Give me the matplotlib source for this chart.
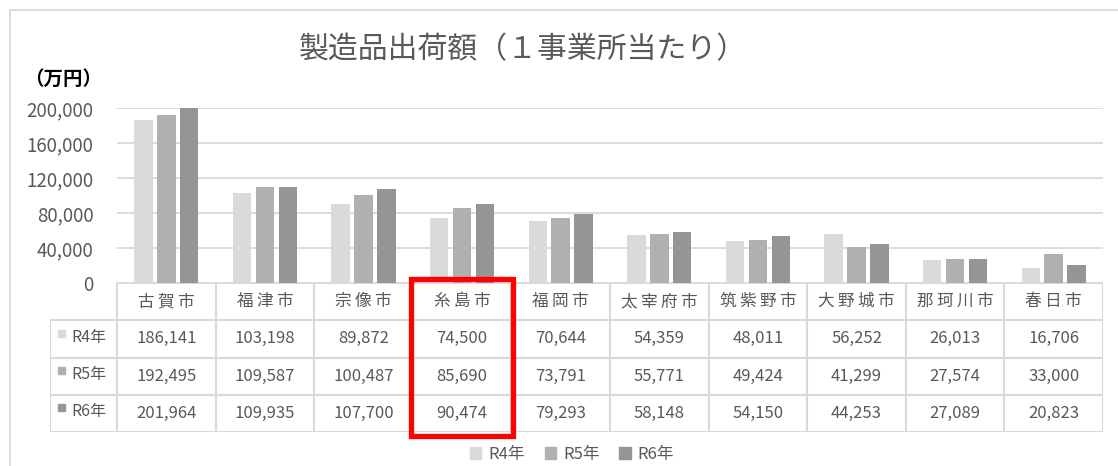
import matplotlib
matplotlib.use("Agg")
import matplotlib.pyplot as plt
from matplotlib.patches import Patch, Rectangle
from matplotlib.lines import Line2D
import numpy as np

plt.rcParams['font.family'] = ['Noto Sans CJK JP', 'DejaVu Sans']

# data
cities = ["古賀市", "福津市", "宗像市", "糸島市", "福岡市",
          "太宰府市", "筑紫野市", "大野城市", "那珂川市", "春日市"]
series_names = ["R4年", "R5年", "R6年"]
r4 = [186141, 103198, 89872, 74500, 70644, 54359, 48011, 56252, 26013, 16706]
r5 = [192495, 109587, 100487, 85690, 73791, 55771, 49424, 41299, 27574, 33000]
r6 = [201964, 109935, 107700, 90474, 79293, 58148, 54150, 44253, 27089, 20823]
yticks = [0, 40000, 80000, 120000, 160000, 200000]
highlight = "糸島市"

colors = ["#dadada", "#b0b0b0", "#959595"]
grid_c = "#d9d9d9"
text_c = "#595959"

W, H = 1118, 466
fig = plt.figure(figsize=(W / 100, H / 100), dpi=100)

def fx(px):
    return px / W

def fy(py):
    return 1 - py / H

# outer chart frame (left and top only visible)
fig.add_artist(Line2D([fx(10), fx(10)], [fy(10), 0], color=grid_c, lw=1.3))
fig.add_artist(Line2D([fx(10), 1], [fy(10), fy(10)], color=grid_c, lw=1.3))

# bar chart
ax = fig.add_axes([fx(117), fy(283), fx(1103) - fx(117), (283 - 108) / H])
x = np.arange(len(cities))
step, width = 0.232, 0.188
for i, (vals, c) in enumerate(zip([r4, r5, r6], colors)):
    ax.bar(x + (i - 1) * step, vals, width, color=c, zorder=2)
ax.set_xlim(-0.5, len(cities) - 0.5)
ax.set_ylim(0, 200000)
ax.set_yticks(yticks)
ax.set_yticklabels([f"{v:,}" for v in yticks], fontsize=13.5, color=text_c)
ax.tick_params(axis="y", length=0, pad=17)
ax.set_xticks([])
ax.grid(axis="y", color=grid_c, lw=1.3, zorder=0)
for s in ax.spines.values():
    s.set_visible(False)

# data table under the bars
tab = fig.add_axes([fx(50), fy(432), fx(1103) - fx(50), (432 - 283) / H])
left = -0.5 - (117 - 50) / ((1103 - 117) / len(cities))
tab.set_xlim(left, len(cities) - 0.5)
tab.set_ylim(4, 0)
tab.axis("off")
lc = dict(color=grid_c, lw=1.5, solid_capstyle="projecting")
tab.plot([-0.5, len(cities) - 0.5], [0, 0], **lc)
for r in range(1, 5):
    tab.plot([left, len(cities) - 0.5], [r, r], **lc)
tab.plot([left, left], [1, 4], **lc)
for k in range(len(cities) + 1):
    tab.plot([k - 0.5, k - 0.5], [0, 4], **lc)

for i, name in enumerate(cities):
    tab.text(i, 0.5, "\u2009".join(name), ha="center", va="center",
             fontsize=12, color=text_c)
for r, (label, vals, c) in enumerate(zip(series_names, [r4, r5, r6], colors)):
    tab.add_patch(Rectangle((left + 0.08, r + 1.25), 0.075, 0.19, color=c, clip_on=False))
    tab.text(left + 0.22, r + 1.45, label, ha="left", va="center", fontsize=11.5, color=text_c)
    for i, v in enumerate(vals):
        tab.text(i, r + 1.5, f"{v:,}", ha="center", va="center", fontsize=12, color=text_c)

# red highlight box
hi = cities.index(highlight)
tab.add_patch(Rectangle((hi - 0.52, -0.1), 1.04, 4.2, fill=False, ec="#ff0000",
                        lw=3.8, clip_on=False, zorder=5))

# title and unit label
fig.text(fx(523), fy(50), "製造品出荷額（１事業所当たり）", ha="center", va="center",
         fontsize=21.5, color=text_c)
fig.text(fx(24), fy(79), "（万円）", ha="left", va="center", fontsize=14,
         fontweight="bold", color="black")

# legend
handles = [Patch(color=c, label=n) for c, n in zip(colors, series_names)]
fig.legend(handles=handles, loc="center", bbox_to_anchor=(fx(572), fy(454)), ncol=3,
           frameon=False, fontsize=12, handlelength=0.7, handleheight=0.7,
           handletextpad=0.4, columnspacing=1.2, labelcolor=text_c, borderpad=0.2)

fig.savefig("out.png", dpi=100)
